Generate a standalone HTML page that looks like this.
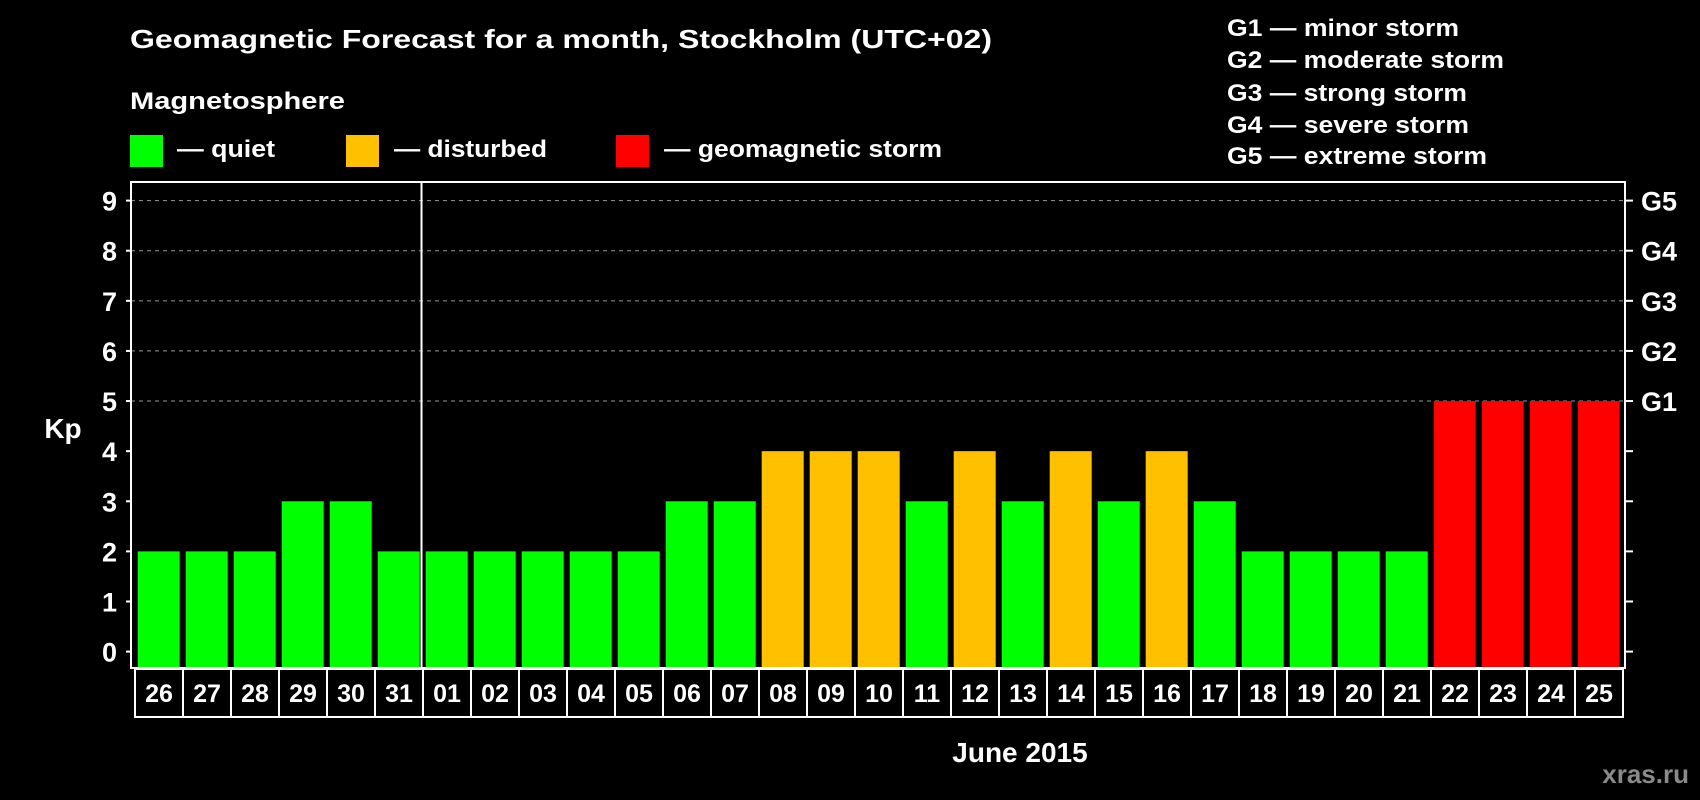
<!DOCTYPE html>
<html><head><meta charset="utf-8"><style>
html,body{margin:0;padding:0;background:#000;}
svg{display:block;font-family:"Liberation Sans",Arial,sans-serif;font-weight:bold;}
</style></head><body>
<svg id="chart" width="1700" height="800" viewBox="0 0 1700 800">
<rect x="0" y="0" width="1700" height="800" fill="#000"/>
<text x="130" y="48" font-size="26" fill="#fff" textLength="862" lengthAdjust="spacingAndGlyphs">Geomagnetic Forecast for a month, Stockholm (UTC+02)</text>
<text x="130" y="109" font-size="24" fill="#fff" textLength="215" lengthAdjust="spacingAndGlyphs">Magnetosphere</text>
<g>
<rect x="130" y="135" width="33" height="32" fill="#00ff00"/>
<text x="177" y="157" font-size="24" fill="#fff" textLength="98" lengthAdjust="spacingAndGlyphs">— quiet</text>
</g>
<g>
<rect x="346" y="135" width="33" height="32" fill="#ffc000"/>
<text x="394" y="157" font-size="24" fill="#fff" textLength="153" lengthAdjust="spacingAndGlyphs">— disturbed</text>
</g>
<g>
<rect x="616" y="135" width="33" height="32" fill="#ff0000"/>
<text x="664" y="157" font-size="24" fill="#fff" textLength="278" lengthAdjust="spacingAndGlyphs">— geomagnetic storm</text>
</g>
<g>
<text x="1227" y="36" font-size="24" fill="#fff" textLength="232" lengthAdjust="spacingAndGlyphs">G1 — minor storm</text>
<text x="1227" y="68" font-size="24" fill="#fff" textLength="277" lengthAdjust="spacingAndGlyphs">G2 — moderate storm</text>
<text x="1227" y="101" font-size="24" fill="#fff" textLength="240" lengthAdjust="spacingAndGlyphs">G3 — strong storm</text>
<text x="1227" y="133" font-size="24" fill="#fff" textLength="242" lengthAdjust="spacingAndGlyphs">G4 — severe storm</text>
<text x="1227" y="164" font-size="24" fill="#fff" textLength="260" lengthAdjust="spacingAndGlyphs">G5 — extreme storm</text>
</g>
<g id="grid"></g>
<g id="bars"></g>
<g id="axes"></g>
<text x="63" y="438" font-size="28" fill="#fff" text-anchor="middle">Kp</text>
<text x="1020" y="762" font-size="28" fill="#fff" text-anchor="middle">June 2015</text>
<text x="1689" y="783" font-size="26" fill="#8a8a8a" text-anchor="end">xras.ru</text>
</svg>
<script>
const days = ["26","27","28","29","30","31","01","02","03","04","05","06","07","08","09","10","11","12","13","14","15","16","17","18","19","20","21","22","23","24","25"];
const kpValues = [2,2,2,3,3,2,2,2,2,2,2,3,3,4,4,4,3,4,3,4,3,4,3,2,2,2,2,5,5,5,5];
const yTicks = [0,1,2,3,4,5,6,7,8,9];
const gLabels = ["G1","G2","G3","G4","G5"];
const gLevels = [5,6,7,8,9];

const NS = "http://www.w3.org/2000/svg";
const plotL = 131, plotR = 1625, plotT = 182, plotB = 668;
const y0 = 651.6, unit = (651.6 - 200.6) / 9;
const firstX = 134, pitch = 48, barW = 42;
function yScale(v){ return y0 - v * unit; }
function xScale(i){ return firstX + i * pitch; }
function mk(tag, attrs, parent){
  const e = document.createElementNS(NS, tag);
  for (const k in attrs) e.setAttribute(k, attrs[k]);
  parent.appendChild(e);
  return e;
}
function color(v){ return v >= 5 ? "#ff0000" : (v >= 4 ? "#ffc000" : "#00ff00"); }
const grid = document.getElementById("grid");
const bars = document.getElementById("bars");
const axes = document.getElementById("axes");

gLevels.forEach(function(v){
  const l = mk("line", {x1: plotL, x2: plotR, y1: yScale(v), y2: yScale(v), stroke: "#999", "stroke-width": 1, "stroke-dasharray": "4,4"}, grid);
  
  
});

kpValues.forEach(function(v, i){
  const r = mk("rect", {x: xScale(i) + 3.7, y: yScale(v), width: barW, height: plotB - yScale(v), fill: color(v)}, bars);
  
  
});

const frame = mk("rect", {x: plotL, y: plotT, width: plotR - plotL, height: plotB - plotT, fill: "none", stroke: "#fff", "stroke-width": 2}, axes);


const monthIdx = days.indexOf("01");
const div = mk("line", {x1: xScale(monthIdx) - 0.5, x2: xScale(monthIdx) - 0.5, y1: plotT, y2: plotB, stroke: "#fff", "stroke-width": 2}, axes);



yTicks.forEach(function(v){
  const t = mk("line", {x1: plotL - 5, x2: plotL, y1: yScale(v), y2: yScale(v), stroke: "#fff", "stroke-width": 2}, axes);
  
  
  const t2 = mk("line", {x1: plotR, x2: plotR + 8, y1: yScale(v), y2: yScale(v), stroke: "#fff", "stroke-width": 2}, axes);
  
  
  const lb = mk("text", {x: 117, y: yScale(v) + 10, "font-size": 27, fill: "#fff", "text-anchor": "end"}, axes);
  lb.textContent = String(v);
  
  
});

gLabels.forEach(function(g, i){
  const lb = mk("text", {x: 1641, y: yScale(gLevels[i]) + 10, "font-size": 27, fill: "#fff"}, axes);
  lb.textContent = g;
  
  
});

days.forEach(function(d, i){
  const b = mk("rect", {x: xScale(i) + 1, y: plotB + 1, width: pitch, height: 48, fill: "#000", stroke: "#fff", "stroke-width": 2}, axes);
  
  
  const t = mk("text", {x: xScale(i) + 1 + pitch / 2, y: 702, "font-size": 25, fill: "#fff", "text-anchor": "middle"}, axes);
  t.textContent = d;
  
  
});
</script>
</body></html>
